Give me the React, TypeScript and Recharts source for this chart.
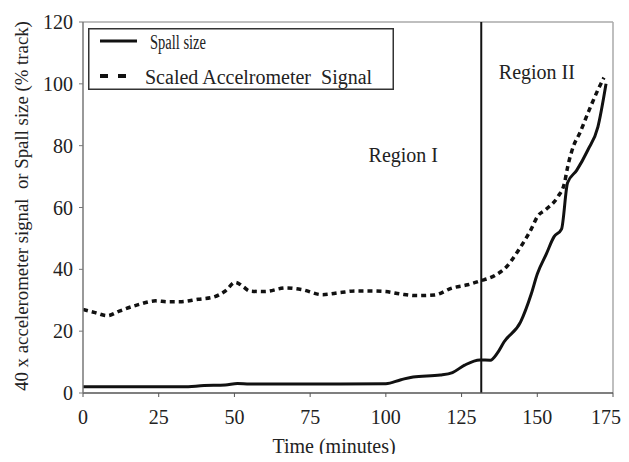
import React from 'react';
import { LineChart, Line, XAxis, YAxis, ReferenceLine, ReferenceDot, Legend } from 'recharts';

const spallTime = [0, 10, 20, 33, 40, 47, 51, 55, 70, 85, 100, 105, 109, 118, 122, 126, 131, 134.5, 136.8, 139, 144.5, 148, 150, 153, 155.5, 158, 160, 163, 166.7, 170, 172.7];
const spallSize = [2, 2, 2, 2, 2.4, 2.6, 3.1, 2.9, 2.9, 2.9, 3, 4.3, 5.2, 5.8, 6.6, 9, 10.7, 10.6, 12.9, 16.5, 23, 32, 38.5, 45, 50.5, 53, 68, 72, 78.6, 86, 100];

const accelTime = [0, 4, 8, 12, 18, 24, 28, 32, 38, 43, 47, 50.3, 53, 55, 60, 67, 72, 79, 85, 90, 95, 100, 105, 110, 116, 122, 127, 131, 136, 140, 143, 145, 148, 150, 153, 156.8, 159, 160, 162, 164, 166.7, 170, 172];
const accelSignal = [27, 26, 25, 26.5, 28.5, 29.8, 29.5, 29.5, 30.3, 31, 33, 35.8, 34.3, 33, 32.8, 34, 33.5, 31.8, 32.5, 33, 33, 32.8, 32, 31.5, 31.7, 34, 35, 36.2, 38, 41, 45, 48, 53, 57, 59.5, 63.5, 68, 73, 80, 84, 90.5, 98, 102];

const xTicks = [0, 25, 50, 75, 100, 125, 150, 175];
const yTicks = [0, 20, 40, 60, 80, 100, 120];

const seriesNames = ['Spall size', 'Scaled Accelrometer\u00a0 Signal'];
const xLabel = 'Time (minutes)';
const yLabel = '40 x accelerometer signal\u00a0 or Spall size (% track)';
const regionBoundary = 131.5;
const regionLabels = [
  { name: 'Region I', t: 94.3, v: 76.9 },
  { name: 'Region II', t: 137.3, v: 104 },
];

const spallData = spallTime.map((t, i) => ({ t, v: spallSize[i] }));
const accelData = accelTime.map((t, i) => ({ t, v: accelSignal[i] }));

const FONT = "'Liberation Serif', 'Times New Roman', serif";
const TEXT = '#222';

const LegendBox = () => (
  <svg width={306} height={62} style={{ display: 'block' }}>
    <rect x={0.75} y={0.75} width={304.5} height={60.5} fill="#fff" stroke="#333" strokeWidth={1.5} />
    <line x1={12} x2={49} y1={13} y2={13} stroke="#111" strokeWidth={3} />
    <text x={62} y={14} dominantBaseline="central" fontFamily={FONT} fontSize={20} fill={TEXT} textLength={56} lengthAdjust="spacingAndGlyphs">
      {seriesNames[0]}
    </text>
    <line x1={12} x2={38} y1={48} y2={48} stroke="#111" strokeWidth={4} strokeDasharray="8 10" />
    <text x={57} y={49} dominantBaseline="central" fontFamily={FONT} fontSize={20} fill={TEXT}>
      {seriesNames[1]}
    </text>
  </svg>
);

const YLabel = () => {
  const cy = 198;
  const x = 20;
  return (
    <text x={x} y={cy} transform={`rotate(-90, ${x}, ${cy})`} textAnchor="middle" fontFamily={FONT} fontSize={18.8} fill={TEXT}>
      {yLabel}
    </text>
  );
};

const XLabel = (props: any) => {
  const vb = props.viewBox || { x: 75, y: 385, width: 530, height: 69 };
  const cx = vb.x + vb.width / 2 - 14;
  return (
    <text x={cx} y={vb.y + 60} textAnchor="middle" fontFamily={FONT} fontSize={20} fill={TEXT}>
      {xLabel}
    </text>
  );
};

export default function App() {
  return (
    <div style={{ height: 446, overflow: 'visible' }}>
      <LineChart width={613} height={454} margin={{ top: 14, right: 8, left: 0, bottom: 0 }}>
        <XAxis
          type="number"
          dataKey="t"
          domain={[0, 175]}
          ticks={xTicks}
          allowDataOverflow
          height={69}
          tickSize={4}
          tickMargin={13}
          axisLine={{ stroke: '#555', strokeWidth: 1.5 }}
          tickLine={{ stroke: '#555' }}
          tick={{ fill: TEXT, fontSize: 20, fontFamily: FONT }}
          label={<XLabel />}
        />
        <YAxis
          type="number"
          dataKey="v"
          domain={[0, 120]}
          ticks={yTicks}
          width={75}
          tickSize={4}
          tickMargin={6}
          axisLine={{ stroke: '#777', strokeWidth: 1.5 }}
          tickLine={{ stroke: '#777' }}
          tick={{ fill: TEXT, fontSize: 20, fontFamily: FONT }}
          label={<YLabel />}
        />
        <ReferenceLine y={120} stroke="#aaa" strokeWidth={1.5} />
        <ReferenceLine x={175} stroke="#aaa" strokeWidth={1.5} />
        <ReferenceLine x={regionBoundary} stroke="#111" strokeWidth={2} />
        {regionLabels.map((r) => (
          <ReferenceDot
            key={r.name}
            x={r.t}
            y={r.v}
            r={0}
            fill="none"
            stroke="none"
            label={{ value: r.name, position: 'right', offset: 0, fill: TEXT, fontSize: 20, fontFamily: FONT }}
          />
        ))}
        <Line
          data={accelData}
          dataKey="v"
          type="monotone"
          name={seriesNames[1]}
          stroke="#111"
          strokeWidth={3.5}
          strokeDasharray="5 4"
          dot={false}
          isAnimationActive={false}
        />
        <Line
          data={spallData}
          dataKey="v"
          type="monotone"
          name={seriesNames[0]}
          stroke="#111"
          strokeWidth={3}
          dot={false}
          isAnimationActive={false}
        />
        <Legend
          layout="horizontal"
          verticalAlign="middle"
          align="center"
          content={() => <LegendBox />}
          wrapperStyle={{ position: 'absolute', left: 80, top: 20, width: 306, height: 62 }}
        />
      </LineChart>
    </div>
  );
}
